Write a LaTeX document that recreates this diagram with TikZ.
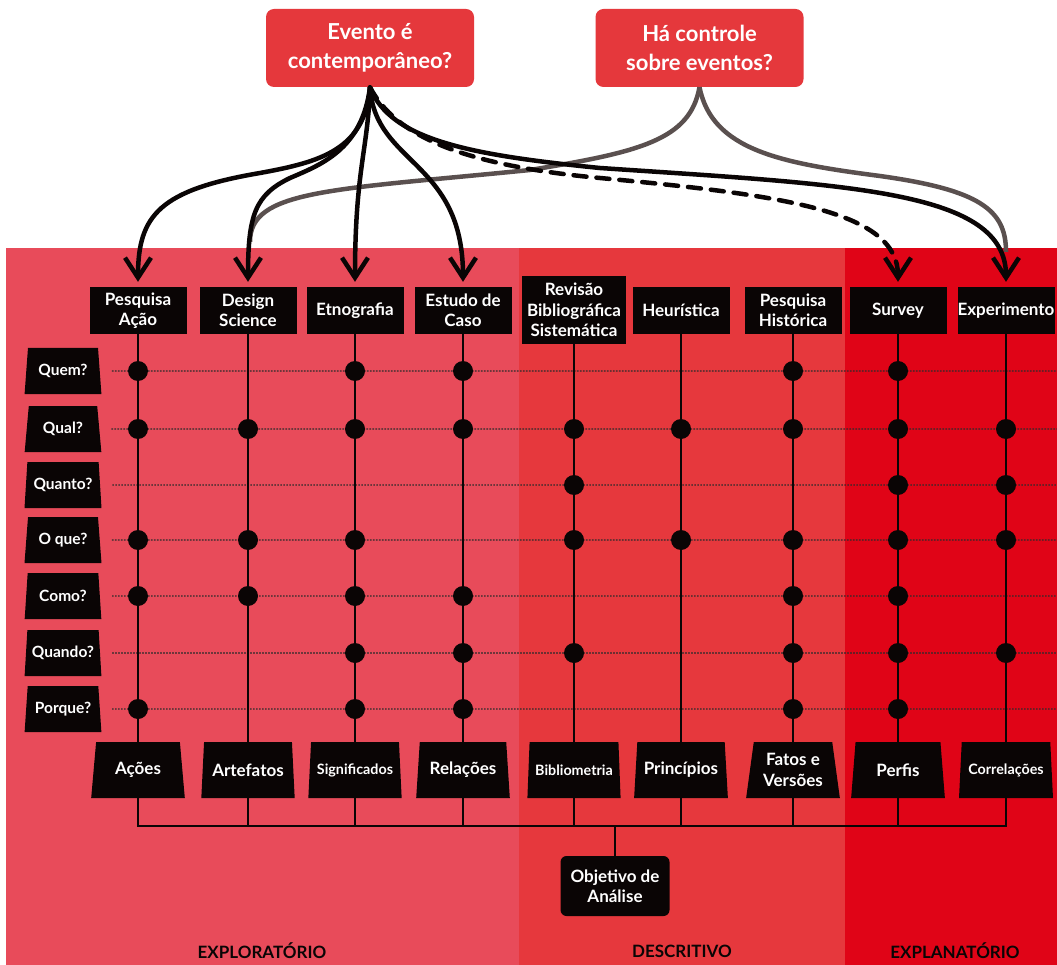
\documentclass[tikz,border=0pt]{standalone}
\usepackage{fontspec}
\setmainfont{Lato}
\usetikzlibrary{shapes.geometric,arrows.meta,calc}
\definecolor{bandA}{HTML}{E84B5A}
\definecolor{bandB}{HTML}{E6383D}
\definecolor{bandC}{HTML}{E00417}
\definecolor{boxred}{HTML}{E5383C}
\definecolor{ink}{HTML}{0A0505}
\definecolor{greyline}{HTML}{5A504F}

\begin{document}
\begin{tikzpicture}[x=1pt,y=-1pt,
  decision/.style={fill=boxred, text=white, rounded corners=8pt,
    minimum width=208pt, minimum height=78pt, align=center, inner sep=0pt,
    font=\bfseries\fontsize{22}{29}\selectfont},
  method/.style={fill=ink, text=white, minimum width=97pt, minimum height=47pt,
    align=center, inner sep=0pt, font=\bfseries\fontsize{17}{20.5}\selectfont},
  ask/.style={trapezium, trapezium left angle=80, trapezium right angle=80,
    trapezium stretches=true, fill=ink, text=white, minimum width=77pt,
    minimum height=46pt, inner sep=0pt, font=\bfseries\fontsize{15.5}{18}\selectfont},
  outcome/.style={trapezium, trapezium left angle=80, trapezium right angle=80,
    trapezium stretches=true, fill=ink, text=white, minimum width=94pt,
    minimum height=56pt, inner sep=0pt, align=center,
    font=\bfseries\fontsize{17}{20.5}\selectfont},
  smallout/.style={font=\bfseries\fontsize{14.3}{17}\selectfont},
  goal/.style={fill=ink, text=white, rounded corners=6pt, minimum width=109pt,
    minimum height=60pt, align=center, inner sep=0pt,
    font=\bfseries\fontsize{17}{20}\selectfont},
  band/.style={text=ink, font=\bfseries\fontsize{17}{20}\selectfont},
  flow/.style={draw=ink, line width=4.5pt, -{Straight Barb[length=20pt,width=26pt]},
    shorten >=5pt},
  greyflow/.style={draw=greyline, line width=4.5pt},
  colline/.style={draw=ink, line width=1.8pt, line cap=rect},
  rowline/.style={draw=ink!85, line width=1.2pt, dash pattern=on 1.6pt off 1.4pt}
]
\useasboundingbox (0,0) rectangle (1057,965);
\fill[white] (0,0) rectangle (1057,965);

% three background bands
\fill[bandA] (6,248) rectangle (519,965);
\fill[bandB] (519,248) rectangle (845,965);
\fill[bandC] (845,248) rectangle (1057,965);

% decision boxes
\node[decision] (ev) at (370,48) {Evento é\\contemporâneo?};
\node[decision] (hc) at (699.5,48) {Há controle\\sobre eventos?};

% research methods
\node[method] (pa) at (138,310.5) {Pesquisa\\Ação};
\node[method] (ds) at (248,310.5) {Design\\Science};
\node[method] (et) at (355,310.5) {Etnografia};
\node[method] (ec) at (463,310.5) {Estudo de\\Caso};
\node[method, minimum width=104pt, minimum height=68pt] (rb) at (574,310) {Revisão\\Bibliográfica\\Sistemática};
\node[method] (he) at (681,310.5) {Heurística};
\node[method] (ph) at (793,310.5) {Pesquisa\\Histórica};
\node[method] (sv) at (898,310.5) {Survey};
\node[method] (ex) at (1006,310.5) {Experimento};

% questions
\node[ask] (q1) at (63,371) {Quem?};
\node[ask] (q2) at (63,429) {Qual?};
\node[ask] (q3) at (63,485) {Quanto?};
\node[ask] (q4) at (63,540) {O que?};
\node[ask] (q5) at (63,596) {Como?};
\node[ask] (q6) at (63,653) {Quando?};
\node[ask] (q7) at (63,709) {Porque?};

% outcomes
\node[outcome] (opa) at (138,770) {Ações};
\node[outcome] (ods) at (248,770) {Artefatos};
\node[outcome, smallout] (oet) at (355,770) {Significados};
\node[outcome] (oec) at (463,770) {Relações};
\node[outcome, smallout] (orb) at (574,770) {Bibliometria};
\node[outcome] (ohe) at (681,770) {Princípios};
\node[outcome] (oph) at (793,770) {Fatos e\\Versões};
\node[outcome] (osv) at (898,770) {Perfis};
\node[outcome, smallout] (oex) at (1006,770) {Correlações};

\node[goal] (obj) at (615,886) {Objetivo de\\Análise};

% band labels
\node[band] (lexp) at (262,951) {EXPLORATÓRIO};
\node[band] (ldes) at (682,951) {DESCRITIVO};
\node[band] (lexl) at (955,951) {EXPLANATÓRIO};

% question rows
\coordinate (rightedge) at (1057,0);
\foreach \r in {1,...,7}
  \draw[rowline] ($(q\r.east)+(12,0)$) -- (q\r -| rightedge);

% method columns
\foreach \c in {pa,ds,et,ec,rb,he,ph,sv,ex}
  \draw[colline] (\c.south) -- (o\c.north);

% markers where a method answers a question
\foreach \c/\rows in {pa/{1,2,4,5,7}, ds/{2,4,5}, et/{1,2,4,5,6,7},
    ec/{1,2,5,6,7}, rb/{2,3,4,6}, he/{2,4}, ph/{1,2,4,5,6,7},
    sv/{1,2,3,4,5,6,7}, ex/{2,3,4,6}}
  \foreach \r in \rows
    \fill[ink] (\c |- q\r) circle[radius=10pt];

% outcomes gathered into the analysis goal
\coordinate (bus) at (615,826);
\foreach \c in {opa,ods,oet,oec,orb,ohe,oph,osv,oex}
  \draw[colline] (\c.south) -- (\c.south |- bus);
\draw[colline] (opa.south |- bus) -- (oex.south |- bus);
\draw[colline] (bus) -- (obj.north);

% control question links
\draw[greyflow] (hc.south) .. controls (690,140) and (640,152) .. (530,170)
  .. controls (330,190) and (250,190) .. ($(ds.north)+(2,-45)$);
\draw[greyflow] (hc.south) .. controls (712,150) and (780,163) .. (880,176)
  .. controls (980,190) and (1006,210) .. ($(ex.north)+(0,-35)$);

% contemporaneity links
\draw[flow] (ev.south) .. controls (365,150) and (320,162) .. (260,173)
  .. controls (160,190) and (138,215) .. (pa.north);
\draw[flow] (ev.south) .. controls (362,150) and (320,165) .. (290,178)
  .. controls (255,195) and (248,215) .. (ds.north);
\draw[flow] (ev.south) .. controls (368,150) and (355,170) .. (et.north);
\draw[flow] (ev.south) .. controls (375,165) and (463,160) .. (ec.north);
\draw[flow] (ev.south) .. controls (390,140) and (470,155) .. (600,168)
  .. controls (850,185) and (1006,190) .. (ex.north);
\draw[flow, line cap=round, dash pattern=on 13pt off 10pt] (ev.south)
  .. controls (395,135) and (460,165) .. (600,178)
  .. controls (780,195) and (898,210) .. (sv.north);
\end{tikzpicture}
\end{document}
